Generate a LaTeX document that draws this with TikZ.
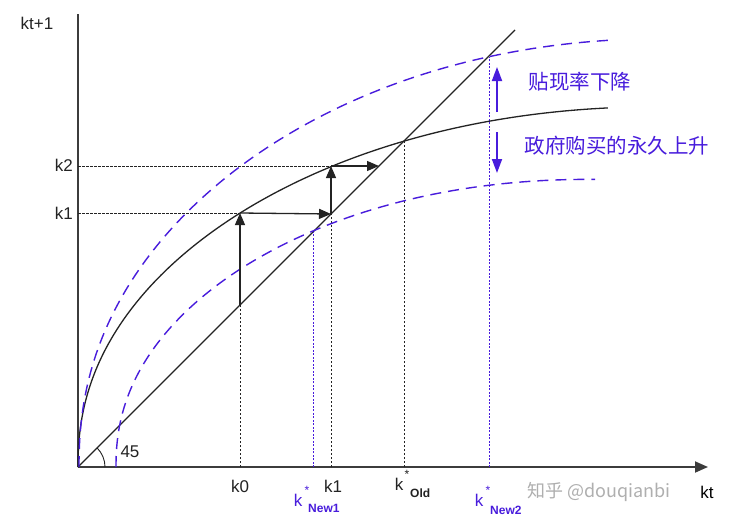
\documentclass[tikz,border=0pt]{standalone}
\usepackage{fontspec}
\setmainfont{Liberation Sans}
\newfontfamily\cjk{Noto Sans CJK SC}
\usetikzlibrary{arrows.meta}
\definecolor{bv}{RGB}{72,28,220}
\definecolor{ink}{RGB}{35,35,35}
\definecolor{axisc}{RGB}{60,60,60}
\definecolor{wm}{RGB}{175,175,175}
\begin{document}
\begin{tikzpicture}[x=1pt,y=-1pt,
  lbl/.style={inner sep=0pt,font=\fontsize{17}{20}\selectfont,text=ink},
  sublbl/.style={inner sep=0pt,font=\fontsize{12}{14}\selectfont\bfseries},
  curveblk/.style={ink,line width=1.3pt},
  curveblue/.style={bv,line width=1.4pt,dash pattern=on 11pt off 7pt},
  dotblk/.style={ink,line width=1pt,dash pattern=on 2.5pt off 1.5pt},
  dotblue/.style={bv,line width=0.9pt,dash pattern=on 2pt off 1.5pt},
  arrblk/.style={ink,line width=1.3pt,-{Triangle[length=12pt,width=10pt]}},
  arrblue/.style={bv,line width=1.8pt,-{Triangle[length=14pt,width=10pt]}},
  cjklbl/.style={inner sep=0pt,font=\cjk\fontsize{20.5}{24}\selectfont,text=bv}]
\useasboundingbox (0,0) rectangle (732,525);
\fill[white] (0,0) rectangle (732,525);

% named points
\coordinate (O) at (78,467);
\coordinate (Ytop) at (78,14);
\coordinate (Xend) at (708,467);
\coordinate (Dtop) at (515,30);
\coordinate (Hk1) at (78,213);
\coordinate (Hk2) at (78,166);
\coordinate (Ak0) at (240,467);
\coordinate (Lk0) at (240,305);
\coordinate (Ck0) at (240,213);
\coordinate (Ak1) at (331,467);
\coordinate (Lk1) at (331,214);
\coordinate (Ck1) at (331,166);
\coordinate (Lk2) at (379,166);
\coordinate (Aold) at (404,467);
\coordinate (Sold) at (404,141);
\coordinate (An1) at (313,467);
\coordinate (Sn1) at (313,232);
\coordinate (An2) at (489,467);
\coordinate (Sn2) at (489,57);
\coordinate (UpS) at (497,112);
\coordinate (UpE) at (497,67);
\coordinate (DnS) at (497,132);
\coordinate (DnE) at (497,173);

% axes
\draw[axisc,line width=1.8pt] (Ytop) -- (O);
\draw[axisc,line width=1.8pt,-{Triangle[length=13pt,width=11pt]}] (O) -- (Xend);

% 45 degree line
\draw[curveblk] (O) -- (Dtop);
\draw[ink,line width=0.9pt] ([xshift=27pt]O) arc[start angle=0,end angle=45,radius=27pt];
\node[lbl] (l45) at (130,452) {45};

% dotted guides
\draw[dotblk] (Hk1) -- (Ck0);
\draw[dotblk] (Hk2) -- (Ck1);
\draw[dotblk] (Ak0) -- (Lk0);
\draw[dotblk] (Ak1) -- (Lk1);
\draw[dotblk] (Aold) -- (Sold);
\draw[dotblue] (An1) -- (Sn1);
\draw[dotblue] (An2) -- (Sn2);

% old curve  v = 26.56 u^0.45 - 3.12e-4 u^2, u = t^2
\draw[curveblk] (O) -- plot[domain=0.01:23.02,samples=140,variable=\t]
  ({78+\t*\t},{467-(26.56*exp(0.9*ln(\t)) - (0.017664*\t*\t)^2)});

% upper blue curve
\draw[curveblue] (79,467) -- plot[domain=0.01:23.11,samples=140,variable=\t]
  ({79+\t*\t},{467-(31.49*exp(0.9*ln(\t)) - (0.019157*\t*\t)^2)});

% lower blue curve
\draw[curveblue] (116,467) -- plot[domain=0.01:21.89,samples=140,variable=\t]
  ({116+\t*\t},{467-(23.26*exp(0.9*ln(\t)) - (0.019391*\t*\t)^2)});

% cobweb arrows
\draw[arrblk] (Lk0) -- (Ck0);
\draw[arrblk] (Ck0) -- (Lk1);
\draw[arrblk] (Lk1) -- (Ck1);
\draw[arrblk] (Ck1) -- (Lk2);

% blue arrows
\draw[arrblue] (UpS) -- (UpE);
\draw[arrblue] (DnS) -- (DnE);
\node[cjklbl] (t1) at (580,82) {贴现率下降};
\node[cjklbl] (t2) at (617,146) {政府购买的永久上升};

% axis labels
\node[lbl] (yl) at (37,23) {kt+1};
\node[lbl,anchor=east] (yk2) at (73,165) {k2};
\node[lbl,anchor=east] (yk1) at (73,213) {k1};
\node[lbl] (xk0) at (240,486) {k0};
\node[lbl] (xk1) at (333,486) {k1};
\node[lbl] (xold) at (399,484) {k};
\node[lbl,font=\fontsize{12}{14}\selectfont] (sold) at (407,474) {*};
\node[sublbl,text=ink,anchor=west] (old) at (410,493) {Old};
\node[lbl,text=bv] (xn1) at (298,500) {k};
\node[lbl,font=\fontsize{12}{14}\selectfont,text=bv] (sn1) at (307,490) {*};
\node[sublbl,text=bv,anchor=west] (n1) at (308,508) {New1};
\node[lbl,text=bv] (xn2) at (479,500) {k};
\node[lbl,font=\fontsize{12}{14}\selectfont,text=bv] (sn2) at (488,490) {*};
\node[sublbl,text=bv,anchor=west] (n2) at (490,510) {New2};

% watermark
\node[inner sep=0pt,anchor=west,font=\cjk\fontsize{18}{22}\selectfont,text=wm] (wmk) at (527,492) {知乎 @douqianbi};
\node[lbl,text=black] (xkt) at (707,492) {kt};
\end{tikzpicture}
\end{document}
